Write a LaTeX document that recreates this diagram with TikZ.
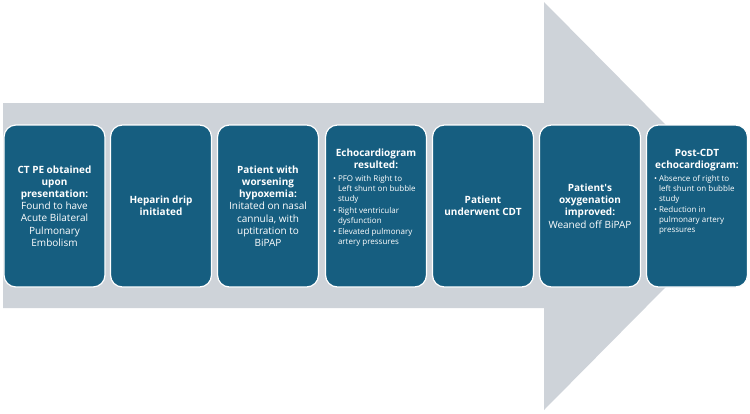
\documentclass[tikz,border=0pt]{standalone}
\usepackage{fontspec}
\setmainfont{Open Sans}
\definecolor{stagefill}{HTML}{165E80}
\definecolor{arrowgrey}{HTML}{CED3D9}
% one bullet line with hanging indent
\newcommand{\bitem}[1]{\par\hangindent=5pt\hangafter=1\noindent\makebox[5pt][l]{\textbullet}#1\par\vspace{1.5pt}}
\tikzset{
  stage/.style={draw=white, line width=1.2pt, fill=stagefill, rounded corners=12pt,
    minimum width=101pt, minimum height=162pt, inner sep=0pt,
    text=white, align=center, font=\fontsize{10}{12.2}\selectfont},
}
\begin{document}
\begin{tikzpicture}[x=1pt,y=-1pt]
\useasboundingbox (0,0) rectangle (750,413);
% big arrow behind the stages
\fill[arrowgrey] (3,103) -- (544,103) -- (544,2) -- (746,206) -- (544,410) -- (544,308) -- (3,308) -- cycle;
% stages
\node[stage] (ctpe) at (54.5,206) {\textbf{CT PE obtained}\\\textbf{upon}\\\textbf{presentation:}\\Found to have\\Acute Bilateral\\Pulmonary\\Embolism};
\node[stage] (heparin) at (161,206) {\textbf{Heparin drip}\\\textbf{initiated}};
\node[stage] (hypox) at (268,206) {\textbf{Patient with}\\\textbf{worsening}\\\textbf{hypoxemia:}\\Initated on nasal\\cannula, with\\uptitration to\\BiPAP};
\node[stage] (echo) at (376,206) {\parbox[c][114pt][t]{86pt}{\centering\textbf{Echocardiogram}\\\textbf{resulted:}\par\vspace{3pt}
  \raggedright\fontsize{8}{10}\selectfont
  \bitem{PFO with Right to\newline Left shunt on bubble study}
  \bitem{Right ventricular dysfunction}
  \bitem{Elevated pulmonary artery pressures}}};
\node[stage] (cdt) at (483,206) {\textbf{Patient}\\\textbf{underwent CDT}};
\node[stage] (oxy) at (590,206) {\textbf{Patient\textquotesingle s}\\\textbf{oxygenation}\\\textbf{improved:}\\Weaned off BiPAP};
\node[stage] (post) at (697,206) {\parbox[c][114pt][t]{86pt}{\centering\textbf{Post-CDT}\\\textbf{echocardiogram:}\par\vspace{3pt}
  \raggedright\fontsize{8}{10}\selectfont
  \bitem{Absence of right to left shunt on bubble study}
  \bitem{Reduction in pulmonary artery pressures}}};
\end{tikzpicture}
\end{document}
